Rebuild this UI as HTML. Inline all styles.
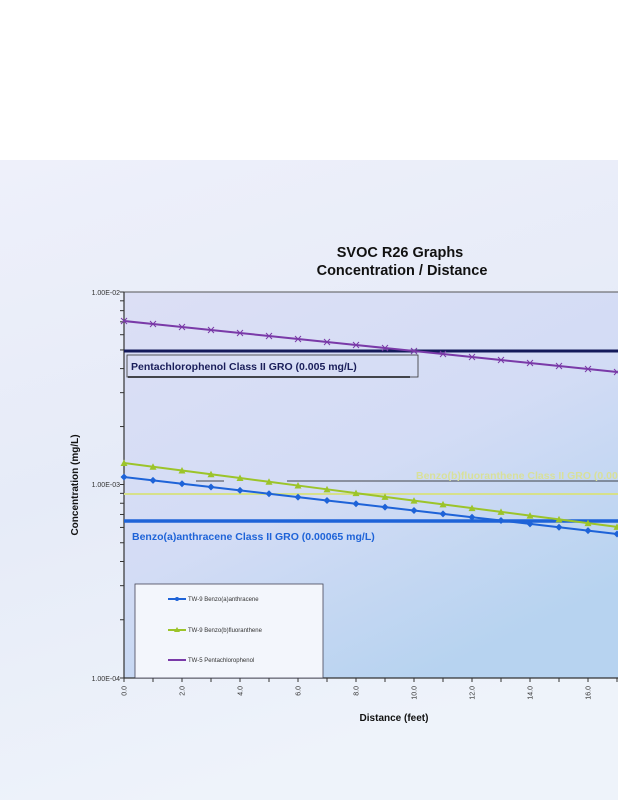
<!DOCTYPE html>
<html><head><meta charset="utf-8"><style>
html,body{margin:0;padding:0;width:618px;height:800px;overflow:hidden;background:#fff}
svg{display:block}
text{font-family:"Liberation Sans",sans-serif}
</style></head><body>
<svg id="s" width="618" height="800" viewBox="0 0 618 800" xmlns="http://www.w3.org/2000/svg">
<defs>
<linearGradient id="pg" x1="0" y1="0" x2="0.3" y2="1">
<stop offset="0" stop-color="#eef0fa"/><stop offset="0.5" stop-color="#e6ebf8"/><stop offset="1" stop-color="#eef3fa"/>
</linearGradient>
<linearGradient id="plot" x1="0" y1="0" x2="0.6" y2="1">
<stop offset="0" stop-color="#dcdff5"/><stop offset="0.55" stop-color="#d3dcf5"/><stop offset="1" stop-color="#b7d3f0"/>
</linearGradient>
</defs>
<rect x="0" y="0" width="618" height="800" fill="#fff"/>
<rect x="0" y="160" width="618" height="640" fill="url(#pg)"/>
<rect x="124" y="292" width="494" height="386" fill="url(#plot)"/>
<text x="400" y="257" font-size="14.5" font-weight="bold" text-anchor="middle" fill="#111">SVOC R26 Graphs</text>
<text x="402" y="275" font-size="14.5" font-weight="bold" text-anchor="middle" fill="#111">Concentration / Distance</text>
<line x1="124" y1="292" x2="618" y2="292" stroke="#555" stroke-width="1"/>
<line x1="124" y1="292" x2="124" y2="678" stroke="#333" stroke-width="1.2"/>
<line x1="124" y1="678" x2="618" y2="678" stroke="#333" stroke-width="1.2"/>
<g id="ticks" stroke="#333" stroke-width="1"></g>
<g font-size="7" fill="#333" font-family="Liberation Serif,serif">
<text x="120" y="295" text-anchor="end">1.00E-02</text>
<text x="120" y="487" text-anchor="end">1.00E-03</text>
<text x="120" y="681" text-anchor="end">1.00E-04</text>
</g>
<g id="xl" font-size="7" fill="#333" font-family="Liberation Serif,serif"></g>
<text transform="translate(78,485) rotate(-90)" font-size="10" font-weight="bold" text-anchor="middle" fill="#111">Concentration (mg/L)</text>
<text x="394" y="721" font-size="10" font-weight="bold" text-anchor="middle" fill="#111">Distance (feet)</text>
<!-- GRO lines -->
<line x1="124" y1="351" x2="618" y2="351" stroke="#141a5a" stroke-width="3"/>
<rect x="127" y="355" width="291" height="22" fill="none" stroke="#333" stroke-width="0.8"/>
<line x1="128" y1="377" x2="410" y2="377" stroke="#111" stroke-width="1.5"/>
<text x="131" y="370" font-size="10.5" font-weight="bold" fill="#1a1e5a">Pentachlorophenol Class II GRO (0.005 mg/L)</text>
<line x1="124" y1="494" x2="618" y2="494" stroke="#d6e08a" stroke-width="2"/>
<line x1="287" y1="481" x2="618" y2="481" stroke="#111" stroke-width="0.8"/>
<line x1="196" y1="481" x2="224" y2="481" stroke="#111" stroke-width="0.8"/>
<text x="416" y="479" font-size="10.5" font-weight="bold" fill="#d8e09a">Benzo(b)fluoranthene Class II GRO (0.00091 mg/L)</text>
<line x1="124" y1="521" x2="618" y2="521" stroke="#1e63d8" stroke-width="3.5"/>
<text x="132" y="540" font-size="10.5" font-weight="bold" fill="#1e63d8">Benzo(a)anthracene Class II GRO (0.00065 mg/L)</text>
<g id="series"></g>
<!-- legend -->
<rect x="135" y="584" width="188" height="94" fill="#f3f6fc" stroke="#445" stroke-width="0.8"/>
<g font-size="6" fill="#333">
<line x1="168" y1="599" x2="186" y2="599" stroke="#1e63d8" stroke-width="2"/><circle cx="177" cy="599" r="2" fill="#1e63d8"/>
<text x="188" y="601">TW-9 Benzo(a)anthracene</text>
<line x1="168" y1="630" x2="186" y2="630" stroke="#9cc42a" stroke-width="2"/><path d="M174,632 L177,627 L180,632Z" fill="#9cc42a"/>
<text x="188" y="632">TW-9 Benzo(b)fluoranthene</text>
<line x1="168" y1="660" x2="186" y2="660" stroke="#7a3aa8" stroke-width="2"/>
<text x="188" y="662">TW-5 Pentachlorophenol</text>
</g>
</svg>
<script>
var ns="http://www.w3.org/2000/svg";
function el(p,n,a){var e=document.createElementNS(ns,n);for(var k in a)e.setAttribute(k,a[k]);p.appendChild(e);return e;}
var t=document.getElementById('ticks');
var dec=[[292,484.5],[484.5,678]];
dec.forEach(function(d){for(var i=1;i<=10;i++){var y=d[1]-(d[1]-d[0])*Math.log10(i);el(t,'line',{x1:120,x2:124,y1:y,y2:y});}});
var xl=document.getElementById('xl');
for(var f=0;f<=17;f++){var x=124+29*f;el(t,'line',{x1:x,x2:x,y1:678,y2:682});
 if(f%2==0){var tx=el(xl,'text',{transform:'translate('+(x+2.5)+',686) rotate(-90)','text-anchor':'end'});tx.textContent=f.toFixed(1);}}
var s=document.getElementById('series');
function ser(y0,dy,col,mk){var pts=[];for(var f=0;f<=17;f++)pts.push((124+29*f)+','+(y0+dy*f));
 el(s,'polyline',{points:pts.join(' '),fill:'none',stroke:col,'stroke-width':2});
 for(var f=0;f<=17;f++){var x=124+29*f,y=y0+dy*f;
  if(mk=='d')el(s,'path',{d:'M'+x+','+(y-3.5)+' L'+(x+3.5)+','+y+' L'+x+','+(y+3.5)+' L'+(x-3.5)+','+y+'Z',fill:col});
  else if(mk=='t')el(s,'path',{d:'M'+(x-3.5)+','+(y+3)+' L'+x+','+(y-3.5)+' L'+(x+3.5)+','+(y+3)+'Z',fill:col});
  else{el(s,'path',{d:'M'+(x-3)+','+(y-3)+' L'+(x+3)+','+(y+3)+' M'+(x-3)+','+(y+3)+' L'+(x+3)+','+(y-3),stroke:col,'stroke-width':1});}}}
ser(321,3.0,'#7a3aa8','x');
ser(463,3.76,'#9cc42a','t');
ser(477,3.35,'#1e63d8','d');
</script>
</body></html>
